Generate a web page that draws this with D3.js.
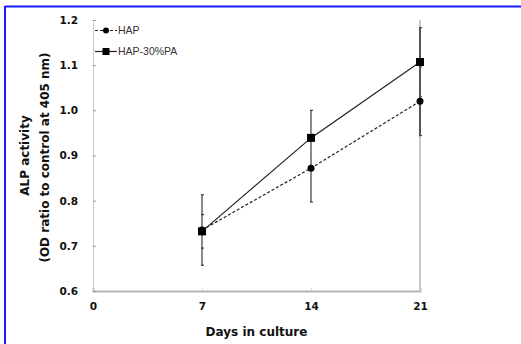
<!DOCTYPE html>
<html>
<head>
<meta charset="utf-8">
<script src="https://cdn.jsdelivr.net/npm/d3@7"></script>
<style>
  body { margin: 0; background: #fff; }
  svg { display: block; }
  .tick-label { font-family: "DejaVu Sans", sans-serif; font-weight: bold; font-size: 10.5px; fill: #111; }
  .title { font-family: "DejaVu Sans", sans-serif; font-weight: bold; font-size: 12px; fill: #111; }
  .legend { font-family: "Liberation Sans", sans-serif; font-size: 10.5px; fill: #333; }
</style>
</head>
<body>
<script>
var days = [7, 14, 21];
var hap = [0.735, 0.872, 1.02];
var hapErr = [0.078, 0.075, 0.076];
var hapPa = [0.732, 0.939, 1.107];
var hapPaErr = [0.037, 0.061, 0.076];
var xTicks = [0, 7, 14, 21];
var yTicks = [0.6, 0.7, 0.8, 0.9, 1.0, 1.1, 1.2];
var seriesNames = ["HAP", "HAP-30%PA"];

var W = 521, H = 344;
var margin = {top: 20, right: 101, bottom: 53, left: 93},
    width = W - margin.left - margin.right,
    height = H - margin.top - margin.bottom;

var svg = d3.select("body").append("svg")
    .attr("width", W)
    .attr("height", H);

// blue frame (top + left only)
svg.append("line").attr("x1", 5).attr("x2", W).attr("y1", 6.5).attr("y2", 6.5)
    .attr("stroke", "#1a1aff").attr("stroke-width", 2);
svg.append("line").attr("x1", 5).attr("x2", 5).attr("y1", 6).attr("y2", H)
    .attr("stroke", "#1a1aff").attr("stroke-width", 2);

var g = svg.append("g")
    .attr("transform", "translate(" + margin.left + "," + margin.top + ")");

var x = d3.scaleLinear().domain([0, 21]).range([0, width]);
var y = d3.scaleLinear().domain([0.6, 1.2]).range([height, 0]);

// axes
var xAxis = g.append("g")
    .attr("transform", "translate(0," + height + ")")
    .call(d3.axisBottom(x).tickValues(xTicks).tickSize(-3).tickPadding(12)
        .tickFormat(d3.format("d")));
xAxis.select(".domain").attr("stroke", "#b5b5b5").attr("stroke-width", 2);
xAxis.selectAll(".tick line").attr("stroke", "#ddd");
xAxis.selectAll("text").attr("class", "tick-label");

var yAxis = g.append("g")
    .call(d3.axisLeft(y).tickValues(yTicks).tickSize(-3).tickPadding(15)
        .tickFormat(d3.format(".1f")));
yAxis.select(".domain").attr("stroke", "#ccc").attr("stroke-width", 1);
yAxis.selectAll(".tick line").attr("stroke", "#999");
yAxis.selectAll("text").attr("class", "tick-label");

// right border
g.append("line")
    .attr("x1", width).attr("x2", width).attr("y1", 0).attr("y2", height)
    .attr("stroke", "#c8c8c8").attr("stroke-width", 2);

// error bars
function errBars(vals, errs, color) {
  var eg = g.append("g");
  days.forEach(function(d, i) {
    var cx = x(d);
    eg.append("line")
        .attr("x1", cx).attr("x2", cx)
        .attr("y1", y(vals[i] + errs[i])).attr("y2", y(vals[i] - errs[i]))
        .attr("stroke", color).attr("stroke-width", 2);
    [vals[i] + errs[i], vals[i] - errs[i]].forEach(function(v) {
      eg.append("line")
          .attr("x1", cx - 1).attr("x2", cx + 2)
          .attr("y1", y(v)).attr("y2", y(v))
          .attr("stroke", "#222").attr("stroke-width", 1);
    });
  });
}
errBars(hap, hapErr, "#8a8a8a");
errBars(hapPa, hapPaErr, "#8a8a8a");
// darker overlay on day 21
g.append("line")
    .attr("x1", x(21)).attr("x2", x(21))
    .attr("y1", y(hapPa[2] + hapPaErr[2])).attr("y2", y(hap[2] - hapErr[2]))
    .attr("stroke", "#555").attr("stroke-width", 2);

var line = d3.line()
    .x(function(d, i) { return x(days[i]); })
    .y(function(d) { return y(d); });

g.append("path").datum(hap)
    .attr("d", line).attr("fill", "none")
    .attr("stroke", "#222").attr("stroke-width", 1.2)
    .attr("stroke-dasharray", "3,2");
g.append("path").datum(hapPa)
    .attr("d", line).attr("fill", "none")
    .attr("stroke", "#222").attr("stroke-width", 1.2);

g.selectAll(".dot").data(hap).enter().append("circle")
    .attr("cx", function(d, i) { return x(days[i]); })
    .attr("cy", function(d) { return y(d); })
    .attr("r", 3.5).attr("fill", "#000");
g.selectAll(".sq").data(hapPa).enter().append("rect")
    .attr("x", function(d, i) { return x(days[i]) - 4; })
    .attr("y", function(d) { return y(d) - 4; })
    .attr("width", 8).attr("height", 8).attr("fill", "#000");

// legend
var leg = g.append("g").attr("transform", "translate(2,10.5)");
seriesNames.forEach(function(name, i) {
  var ly = i * 21;
  var row = leg.append("g").attr("transform", "translate(0," + ly + ")");
  row.append("line").attr("x1", 0).attr("x2", 22).attr("y1", 0).attr("y2", 0)
      .attr("stroke", "#222").attr("stroke-width", 1.2)
      .attr("stroke-dasharray", i === 0 ? "3,2" : null);
  if (i === 0) {
    row.append("circle").attr("cx", 11).attr("cy", 0).attr("r", 3).attr("fill", "#000");
  } else {
    row.append("rect").attr("x", 7.5).attr("y", -3.5).attr("width", 7).attr("height", 7).attr("fill", "#000");
  }
  row.append("text").attr("class", "legend")
      .attr("x", 23).attr("y", 3.8).text(name);
});

// titles
svg.append("text").attr("class", "title")
    .attr("x", margin.left + width / 2).attr("y", 336)
    .attr("text-anchor", "middle")
    .text("Days in culture");

svg.append("text").attr("class", "title")
    .attr("transform", "translate(29," + (margin.top + height / 2) + ") rotate(-90)")
    .attr("text-anchor", "middle")
    .text("ALP activity");
svg.append("text").attr("class", "title")
    .attr("transform", "translate(49," + (margin.top + height / 2 + 2) + ") rotate(-90)")
    .attr("text-anchor", "middle")
    .text("(OD ratio to control at 405 nm)");
</script>
</body>
</html>
